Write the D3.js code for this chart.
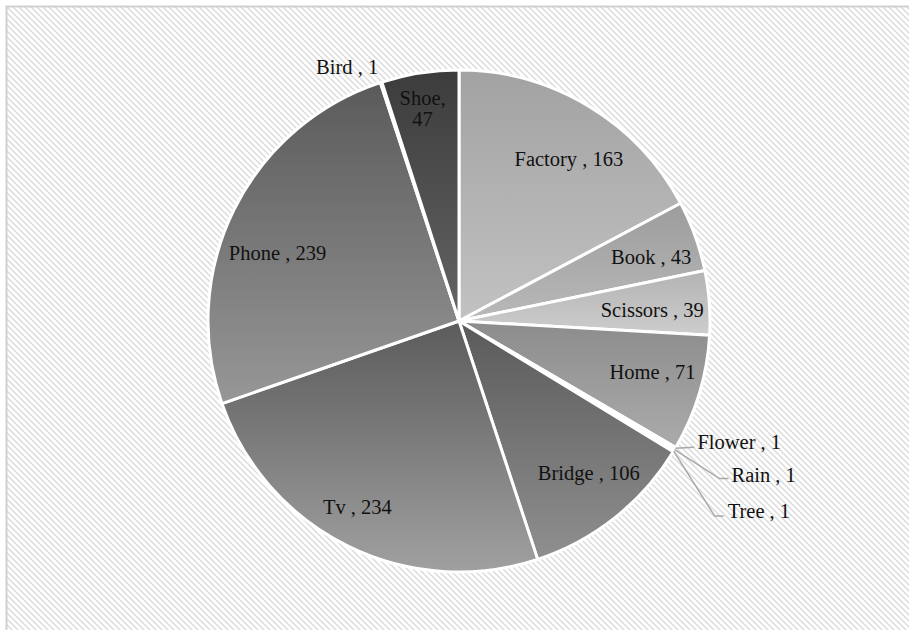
<!DOCTYPE html>
<html>
<head>
<meta charset="utf-8">
<script src="https://cdn.jsdelivr.net/npm/d3@7"></script>
<style>
  html, body { margin: 0; padding: 0; background: #ffffff; }
  svg { display: block; }
  text { font-family: "Liberation Serif", "Times New Roman", serif; fill: #111111; }
</style>
</head>
<body>
<svg id="chart" width="909" height="630"></svg>
<script>
// Slice data, clockwise from 12 o'clock
const categories = ["Factory", "Book", "Scissors", "Home", "Flower", "Rain", "Tree", "Bridge", "Tv", "Phone", "Bird", "Shoe"];
const values     = [163, 43, 39, 71, 1, 1, 1, 106, 234, 239, 1, 47];
const labelTexts = ["Factory , 163", "Book , 43", "Scissors , 39", "Home , 71", "Flower , 1", "Rain , 1", "Tree , 1",
                    "Bridge , 106", "Tv , 234", "Phone , 239", "Bird , 1", "Shoe,\n47"];

// Gray shading of each slice: [top, bottom]
const shades = {
  Factory:  ["#a2a2a2", "#c2c2c2"],
  Book:     ["#9c9c9c", "#b9b9b9"],
  Scissors: ["#b3b3b3", "#cdcdcd"],
  Home:     ["#8c8c8c", "#ababab"],
  Flower:   ["#b0b0b0", "#c8c8c8"],
  Rain:     ["#a8a8a8", "#c0c0c0"],
  Tree:     ["#a0a0a0", "#bcbcbc"],
  Bridge:   ["#5a5a5a", "#8f8f8f"],
  Tv:       ["#5b5b5b", "#a0a0a0"],
  Phone:    ["#5a5a5a", "#979797"],
  Bird:     ["#505050", "#707070"],
  Shoe:     ["#3c3c3c", "#646464"]
};

const width = 909, height = 630;
const cx = 459, cy = 321, radius = 251;

const svg = d3.select("#chart");
const defs = svg.append("defs");

// Diagonal hatch background
const hatch = defs.append("pattern")
  .attr("id", "hatch")
  .attr("patternUnits", "userSpaceOnUse")
  .attr("width", 6).attr("height", 6);
hatch.append("rect").attr("width", 6).attr("height", 6).attr("fill", "#ffffff");
hatch.append("path")
  .attr("d", "M0,0 L6,6 M-3,3 L3,9 M3,-3 L9,3")
  .attr("stroke", "#dcdcdc")
  .attr("stroke-width", 1.5);

svg.append("rect")
  .attr("x", 6.5).attr("y", 6.5)
  .attr("width", width + 10).attr("height", height + 10)
  .attr("fill", "url(#hatch)")
  .attr("stroke", "#d0d0d0")
  .attr("stroke-width", 2);

// Per-slice vertical gradients
categories.forEach((c, i) => {
  const g = defs.append("linearGradient")
    .attr("id", "grad" + i)
    .attr("x1", 0).attr("y1", 0).attr("x2", 0).attr("y2", 1);
  g.append("stop").attr("offset", "0%").attr("stop-color", shades[c][0]);
  g.append("stop").attr("offset", "100%").attr("stop-color", shades[c][1]);
});

const data = categories.map((c, i) => ({ name: c, value: values[i], label: labelTexts[i], idx: i }));

const pie = d3.pie().value(d => d.value).sort(null);
const arcs = pie(data);

const arc = d3.arc().innerRadius(0).outerRadius(radius);
const labelArc = d3.arc().innerRadius(radius * 0.78).outerRadius(radius * 0.78);
const edgeArc = d3.arc().innerRadius(radius).outerRadius(radius);

const g = svg.append("g").attr("transform", `translate(${cx},${cy})`);

g.selectAll("path.slice")
  .data(arcs)
  .join("path")
  .attr("class", "slice")
  .attr("d", arc)
  .attr("fill", d => `url(#grad${d.data.idx})`)
  .attr("stroke", "#ffffff")
  .attr("stroke-width", 3)
  .attr("stroke-linejoin", "round");

// Inside labels: placed around the label ring, then shifted for best fit
const insideShift = {
  Factory: [9, 6], Book: [8, 2], Scissors: [-2, 3], Home: [6, -6],
  Bridge: [8, -2], Tv: [-15, 10], Phone: [-6, 18], Shoe: [-6, -19]
};
// Outside labels: offset of the text from the slice's outer edge
const outsideShift = {
  Bird:   { dx: -34, dy: -16, anchor: "middle" },
  Flower: { dx: 22, dy: -6, anchor: "start", leader: [[19, -1]] },
  Rain:   { dx: 57, dy: 25, anchor: "start", leader: [[45, 29], [54, 29]] },
  Tree:   { dx: 54, dy: 60, anchor: "start", leader: [[41, 65], [50, 65]] }
};

const fontSize = 20.5;

arcs.forEach(d => {
  const name = d.data.name;
  const lines = d.data.label.split("\n");
  let x, y, anchor = "middle";
  if (insideShift[name]) {
    const [px, py] = labelArc.centroid(d);
    x = px + insideShift[name][0];
    y = py + insideShift[name][1];
  } else {
    const [ex, ey] = edgeArc.centroid(d);
    const o = outsideShift[name];
    x = ex + o.dx;
    y = ey + o.dy;
    anchor = o.anchor;
    if (o.leader) {
      const pts = [[ex, ey]].concat(o.leader.map(p => [ex + p[0], ey + p[1]]));
      g.append("path")
        .attr("d", d3.line()(pts))
        .attr("fill", "none")
        .attr("stroke", "#a8a8a8")
        .attr("stroke-width", 1.5);
    }
  }
  const lineH = fontSize * 1.04;
  const t = g.append("text")
    .attr("text-anchor", anchor)
    .attr("font-size", fontSize);
  lines.forEach((ln, k) => {
    t.append("tspan")
      .attr("x", x)
      .attr("y", y + (k - (lines.length - 1) / 2) * lineH)
      .attr("dy", "0.35em")
      .text(ln);
  });
});
</script>
</body>
</html>
